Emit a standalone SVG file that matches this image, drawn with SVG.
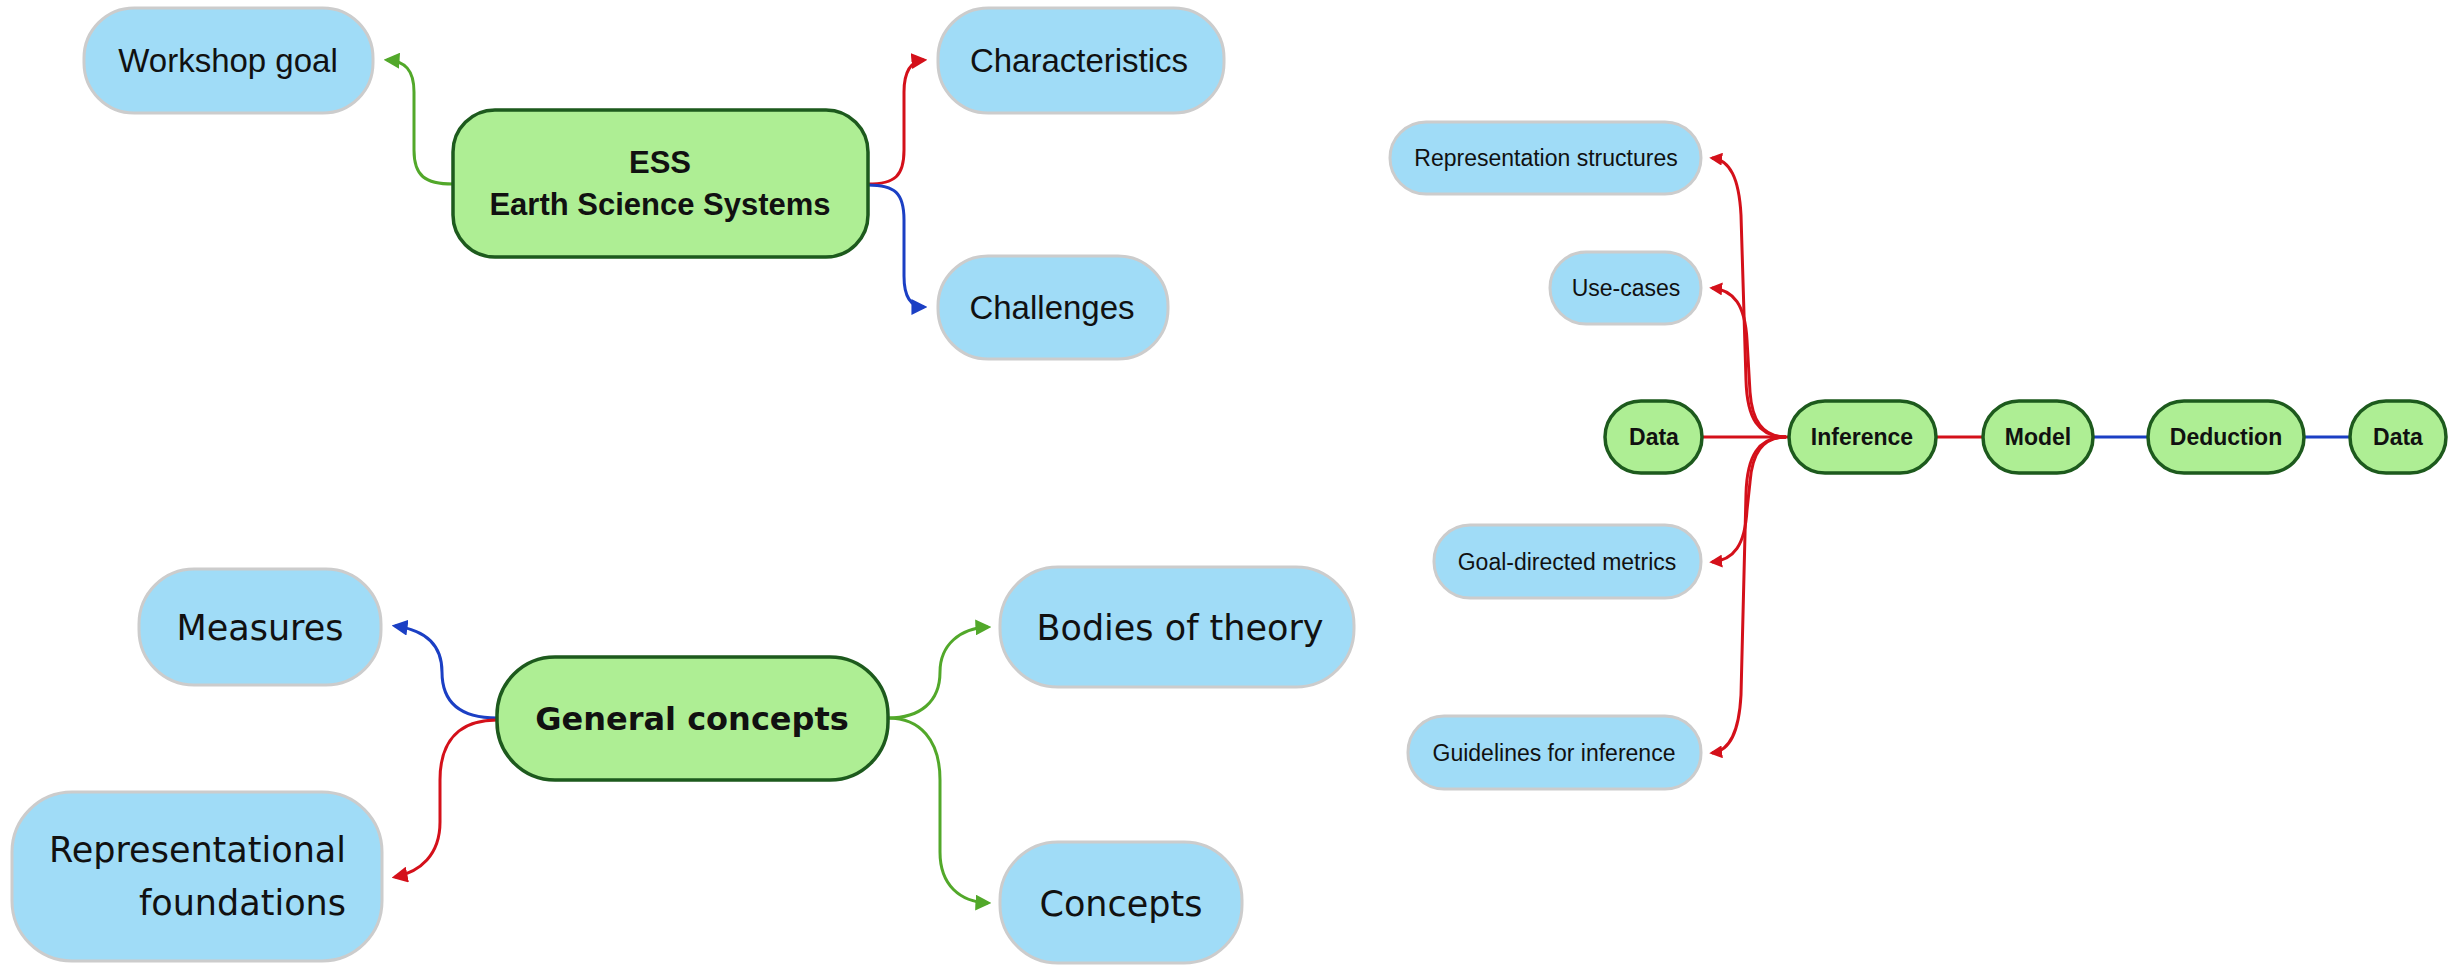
<svg xmlns="http://www.w3.org/2000/svg" width="2458" height="965" viewBox="0 0 2458 965">
<defs>
<style>
.leaf{fill:#a0dcf7;stroke:#cccccc;stroke-width:3}
.core{fill:#aeee94;stroke:#1d5a1d;stroke-width:3.5}
.t{fill:#111;text-anchor:middle}
.tl{font-family:"Liberation Sans",Arial,sans-serif;font-size:33px}
.tlb{font-family:"Liberation Sans",Arial,sans-serif;font-size:31px;font-weight:bold}
.bl{font-family:"DejaVu Sans",sans-serif;font-size:35px}
.blb{font-family:"DejaVu Sans",sans-serif;font-size:32px;font-weight:bold}
.rs{font-family:"Liberation Sans",Arial,sans-serif;font-size:23px}
.rsb{font-family:"Liberation Sans",Arial,sans-serif;font-size:23px;font-weight:bold}
.c{fill:none;stroke-width:3}
.g{stroke:#52a82a}
.r{stroke:#d4101a}
.b{stroke:#1b3fc4}
</style>
<marker id="ag" viewBox="0 0 14 14" refX="11" refY="7" markerWidth="16" markerHeight="16" markerUnits="userSpaceOnUse" orient="auto"><path d="M0,0 L14,7 L0,14 z" fill="#52a82a"/></marker>
<marker id="ar" viewBox="0 0 14 14" refX="11" refY="7" markerWidth="16" markerHeight="16" markerUnits="userSpaceOnUse" orient="auto"><path d="M0,0 L14,7 L0,14 z" fill="#d4101a"/></marker>
<marker id="ab" viewBox="0 0 14 14" refX="11" refY="7" markerWidth="16" markerHeight="16" markerUnits="userSpaceOnUse" orient="auto"><path d="M0,0 L14,7 L0,14 z" fill="#1b3fc4"/></marker>
<marker id="ars" viewBox="0 0 14 14" refX="11" refY="7" markerWidth="13" markerHeight="13" markerUnits="userSpaceOnUse" orient="auto"><path d="M0,0 L14,7 L0,14 z" fill="#d4101a"/></marker>
</defs>
<rect width="2458" height="965" fill="#ffffff"/>

<g id="connectors">
<path class="c g" d="M453 184 C425 184 414 176 414 150 L414 92 C414 70 405 61 387 60" marker-end="url(#ag)"/>
<path class="c r" d="M868 184 C895 184 904 176 904 150 L904 92 C904 70 912 61 924 60" marker-end="url(#ar)"/>
<path class="c b" d="M868 185 C895 185 904 193 904 220 L904 276 C904 298 912 307 924 307" marker-end="url(#ab)"/>
<path class="c b" d="M497 718 C460 718 442 702 442 672 C442 645 425 630 395 626" marker-end="url(#ab)"/>
<path class="c r" d="M497 720 C460 720 440 740 440 780 L440 822 C440 855 420 872 395 877" marker-end="url(#ar)"/>
<path class="c g" d="M888 718 C920 718 940 702 940 672 C940 645 960 628 988 627" marker-end="url(#ag)"/>
<path class="c g" d="M888 718 C920 718 940 740 940 780 L940 852 C940 885 960 902 988 903" marker-end="url(#ag)"/>
<path class="c r" d="M1786 437 C1758 437 1747 418 1746 380 L1741 215 C1739 178 1730 160 1712 158" marker-end="url(#ars)"/>
<path class="c r" d="M1786 437 C1762 437 1752 420 1750 392 L1747 340 C1745 305 1734 290 1712 288" marker-end="url(#ars)"/>
<path class="c r" d="M1786 437 C1762 437 1752 454 1750 482 L1747 510 C1745 545 1734 560 1712 562" marker-end="url(#ars)"/>
<path class="c r" d="M1786 437 C1758 437 1747 456 1746 494 L1741 695 C1739 732 1730 751 1712 753" marker-end="url(#ars)"/>
<path class="c r" d="M1702 437 L1789 437"/>
<path class="c r" d="M1936 437 L1983 437"/>
<path class="c b" d="M2093 437 L2148 437"/>
<path class="c b" d="M2304 437 L2350 437"/>
</g>

<g id="workshop-goal"><rect class="leaf" x="84" y="8" width="289" height="105" rx="50"/><text class="t tl" x="228" y="72">Workshop goal</text></g>
<g id="ess"><rect class="core" x="453" y="110" width="415" height="147" rx="42"/><text class="t tlb" x="660" y="173">ESS</text><text class="t tlb" x="660" y="215">Earth Science Systems</text></g>
<g id="characteristics"><rect class="leaf" x="938" y="8" width="286" height="105" rx="50"/><text class="t tl" x="1079" y="72">Characteristics</text></g>
<g id="challenges"><rect class="leaf" x="938" y="256" width="230" height="103" rx="50"/><text class="t tl" x="1052" y="319">Challenges</text></g>

<g id="measures"><rect class="leaf" x="139" y="569" width="242" height="116" rx="55"/><text class="t bl" x="260" y="640">Measures</text></g>
<g id="representational-foundations"><rect class="leaf" x="12" y="792" width="370" height="169" rx="60"/><text class="bl" fill="#111" text-anchor="end" x="346" y="862">Representational</text><text class="bl" fill="#111" text-anchor="end" x="346" y="915">foundations</text></g>
<g id="general-concepts"><rect class="core" x="497" y="657" width="391" height="123" rx="58"/><text class="t blb" x="692" y="730">General concepts</text></g>
<g id="bodies-of-theory"><rect class="leaf" x="1000" y="567" width="354" height="120" rx="58"/><text class="t bl" x="1180" y="640">Bodies of theory</text></g>
<g id="concepts"><rect class="leaf" x="1000" y="842" width="242" height="121" rx="58"/><text class="t bl" x="1121" y="916">Concepts</text></g>

<g id="representation-structures"><rect class="leaf" x="1390" y="122" width="311" height="72" rx="36"/><text class="t rs" x="1546" y="166">Representation structures</text></g>
<g id="use-cases"><rect class="leaf" x="1550" y="252" width="151" height="72" rx="36"/><text class="t rs" x="1626" y="296">Use-cases</text></g>
<g id="data-1"><rect class="core" x="1605" y="401" width="97" height="72" rx="36"/><text class="t rsb" x="1654" y="445">Data</text></g>
<g id="inference"><rect class="core" x="1789" y="401" width="147" height="72" rx="36"/><text class="t rsb" x="1862" y="445">Inference</text></g>
<g id="model"><rect class="core" x="1983" y="401" width="110" height="72" rx="36"/><text class="t rsb" x="2038" y="445">Model</text></g>
<g id="deduction"><rect class="core" x="2148" y="401" width="156" height="72" rx="36"/><text class="t rsb" x="2226" y="445">Deduction</text></g>
<g id="data-2"><rect class="core" x="2350" y="401" width="96" height="72" rx="36"/><text class="t rsb" x="2398" y="445">Data</text></g>
<g id="goal-directed-metrics"><rect class="leaf" x="1434" y="525" width="267" height="73" rx="36"/><text class="t rs" x="1567" y="570">Goal-directed metrics</text></g>
<g id="guidelines-for-inference"><rect class="leaf" x="1408" y="716" width="293" height="73" rx="36"/><text class="t rs" x="1554" y="761">Guidelines for inference</text></g>
</svg>
